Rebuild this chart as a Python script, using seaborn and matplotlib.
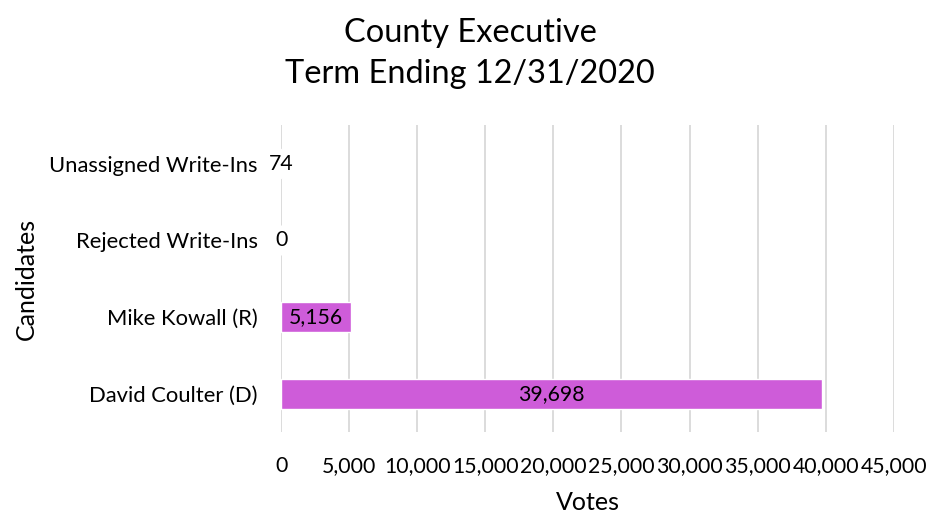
import matplotlib.pyplot as plt
import seaborn as sns
import pandas as pd

# Data
candidates = ['Unassigned Write-Ins', 'Rejected Write-Ins', 'Mike Kowall (R)', 'David Coulter (D)']
votes = [74, 0, 5156, 39698]
xticks = [0, 5000, 10000, 15000, 20000, 25000, 30000, 35000, 40000, 45000]

df = pd.DataFrame({'Candidates': candidates, 'Votes': votes})

sns.set_style('white')
plt.rcParams['font.family'] = ['Lato', 'DejaVu Sans']
plt.rcParams['text.color'] = 'black'
plt.rcParams['axes.labelcolor'] = 'black'
plt.rcParams['xtick.color'] = 'black'
plt.rcParams['ytick.color'] = 'black'

fig = plt.figure(figsize=(9.31, 5.15), dpi=100)
ax = fig.add_axes([0.302, 0.161, 0.658, 0.596])

sns.barplot(data=df, x='Votes', y='Candidates', orient='h', color='#CE5CD9',
            width=0.39, saturation=1, ax=ax)

# value labels centered on each bar
for i, v in enumerate(votes):
    ax.text(v / 2, i, f'{v:,}', ha='center', va='center', fontsize=15.3, color='black')

ax.set_xlim(0, 45000)
ax.set_ylim(3.5, -0.5)
ax.set_xticks(xticks)
ax.set_xticklabels([f'{t:,}' for t in xticks], fontsize=15.3)
ax.tick_params(axis='y', labelsize=15.8, length=0, pad=17)
ax.tick_params(axis='x', length=0, pad=17)
ax.grid(axis='x', color='#d9d9d9', linewidth=1.3)
ax.set_axisbelow(True)
for s in ax.spines.values():
    s.set_visible(False)

ax.set_xlabel('Votes', fontsize=18, labelpad=11)
ax.set_ylabel('Candidates', fontsize=18, labelpad=8)
fig.suptitle('County Executive\nTerm Ending 12/31/2020', fontsize=23.4, y=0.965,
             x=0.505, linespacing=1.45)

fig.savefig('out.png', dpi=100)
